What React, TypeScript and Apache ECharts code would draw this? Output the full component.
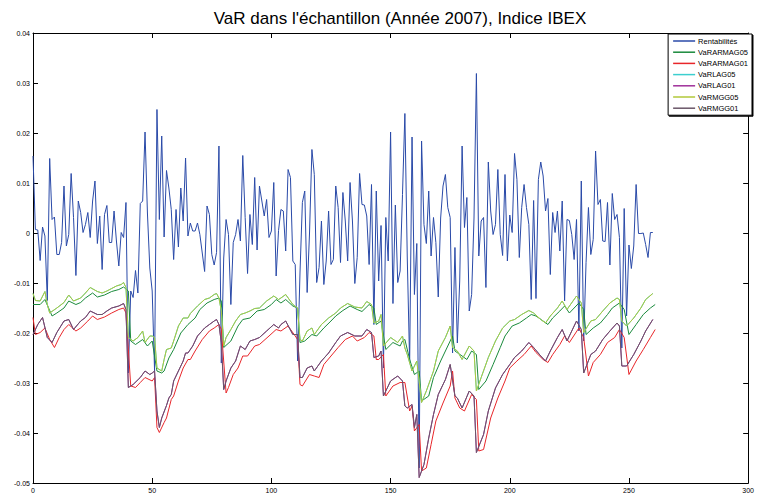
import React, { useEffect, useRef } from "react";
import * as echarts from "echarts";

const titleText = "VaR dans l'échantillon (Année 2007), Indice IBEX";
const seriesNames = ["Rentabilités", "VaRARMAG05", "VaRARMAG01", "VaRLAG05", "VaRLAG01", "VaRMGG05", "VaRMGG01"];
const seriesColors = ["#2a4aa8", "#1a8a3c", "#e8262a", "#3ccfcf", "#a0309a", "#b2c83a", "#6a5668"];

// daily returns, x = 0..260
const rentabilites = [
  0.0154, 0.0007, 0.0006, -0.0055, 0.0012, -0.0006, -0.0135, 0.0149, 0.0027, 0.0032,
  -0.0043, -0.0043, -0.0019, 0.0094, -0.0026, -0.0003, 0.0119, 0.0031, -0.0085, 0.0064,
  0.0041, 0.0001, 0.0017, 0.0041, -0.0009, 0.0064, 0.0104, -0.0021, 0.0034, -0.0073,
  0.0037, 0.0055, -0.0019, -0.0019, 0.0044, -0.0016, -0.0066, 0.0001, -0.0009, 0.0061,
  -0.028, -0.0116, -0.0129, -0.0075, -0.012, 0.0059, 0.0064, 0.0202, 0.004, -0.007,
  -0.0116, -0.0276, 0.0247, 0.0027, 0.0194, -0.0008, 0.0125, 0.009, 0.0047, -0.0053,
  0.0047, -0.0028, 0.009, 0.0024, 0.015, -0.0006, 0.002, 0.0004, 0.0004, 0.002,
  -0.0003, -0.004, -0.0077, 0.0054, 0.0037, -0.0043, -0.0064, -0.0039, 0.0174, -0.026,
  -0.005, 0.0027, -0.0003, -0.0143, -0.0019, -0.0003, 0.0027, -0.0016, 0.0155, 0.0031,
  -0.0081, 0.0037, -0.0023, 0.0111, -0.0034, 0.0094, 0.0064, 0.0034, 0.0067, -0.0009,
  0.0004, 0.0101, -0.0086, 0.0005, 0.0047, 0.0044, -0.0036, 0.0127, 0.0111, -0.0056,
  -0.0063, -0.0256, -0.008, 0.0061, 0.0084, -0.0119, 0.0, 0.0167, 0.0117, -0.0099,
  -0.0069, 0.0024, -0.0103, -0.0056, 0.0044, -0.0063, -0.0053, 0.0094, 0.0051, -0.0059,
  0.0081, 0.0024, -0.0056, 0.0101, 0.0024, -0.0101, -0.0049, 0.0119, 0.0057, 0.0056,
  0.0034, -0.0063, 0.0097, -0.0183, 0.0084, -0.0096, 0.0015, -0.027, 0.0031, -0.0056,
  0.0202, -0.0141, 0.0056, -0.0099, -0.0076, 0.0077, 0.0239, -0.005, -0.026, 0.0192,
  -0.0123, -0.0021, -0.047, 0.0184, 0.0017, -0.0021, 0.0084, -0.0046, 0.0031, -0.0019,
  -0.0128, 0.003, 0.0094, 0.0117, 0.0051, 0.0031, -0.024, -0.0029, -0.022, -0.0096,
  0.0174, 0.0011, 0.0071, -0.0156, -0.0123, 0.003, 0.0319, -0.0046, 0.0024, 0.0031,
  -0.0109, 0.0142, 0.0044, -0.0003, 0.0017, 0.0127, -0.0003, -0.0045, 0.0117, -0.0056,
  0.0036, 0.0001, 0.0159, 0.0107, -0.0049, 0.0051, 0.0097, 0.0051, 0.0017, -0.0133,
  0.0065, -0.0131, 0.0107, 0.0142, 0.0114, 0.0044, 0.0069, -0.0083, 0.0041, 0.0001,
  0.0044, -0.0036, 0.0064, -0.0136, 0.0027, 0.0025, -0.0003, -0.0053, 0.0027, -0.0196,
  0.0104, -0.0216, -0.0059, 0.0051, -0.0043, -0.0013, 0.0164, 0.0057, 0.0067, -0.0016,
  -0.0017, 0.0061, -0.0064, 0.0079, 0.0027, 0.0037, -0.0009, -0.023, 0.0049, -0.0166,
  -0.0024, -0.0071, -0.0026, 0.0097, -0.0001, -0.0001, 0, -0.0023, -0.0049, 0.0001,
  0.0001,
];

// [day, VaR] readings
const varMGG05 = [
  [0, -0.0121], [1, -0.0135], [3, -0.0136], [5, -0.0117], [6, -0.0143], [7, -0.016], [10, -0.015], [13, -0.0139],
  [15, -0.0124], [17, -0.0136], [20, -0.013], [22, -0.012], [24, -0.0109], [27, -0.0117], [29, -0.012], [31, -0.0116],
  [33, -0.0111], [35, -0.0106], [37, -0.0103], [38, -0.0099], [39, -0.0109], [40, -0.0209], [42, -0.0216], [44, -0.0209],
  [46, -0.0196], [47, -0.0219], [49, -0.0206], [50, -0.0206], [51, -0.0209], [52, -0.027], [54, -0.0276], [55, -0.0253],
  [56, -0.0233], [58, -0.023], [59, -0.0216], [61, -0.0186], [63, -0.017], [65, -0.017], [66, -0.0161], [69, -0.0146],
  [72, -0.0133], [74, -0.013], [76, -0.0123], [77, -0.0121], [78, -0.013], [79, -0.0156], [80, -0.0226], [81, -0.0209],
  [83, -0.0193], [85, -0.0176], [87, -0.0163], [89, -0.016], [91, -0.0156], [93, -0.0151], [95, -0.015], [98, -0.0136],
  [101, -0.0126], [103, -0.0133], [104, -0.013], [106, -0.0123], [109, -0.0143], [111, -0.015], [112, -0.0213], [113, -0.0216],
  [115, -0.0196], [117, -0.019], [118, -0.0203], [121, -0.0183], [124, -0.017], [127, -0.016], [129, -0.015], [132, -0.0141],
  [135, -0.0148], [138, -0.015], [140, -0.0137], [142, -0.0143], [143, -0.018], [145, -0.0176], [146, -0.0163], [147, -0.0226],
  [150, -0.0209], [153, -0.0219], [155, -0.0206], [156, -0.023], [157, -0.0243], [159, -0.0276], [161, -0.0256], [163, -0.0339],
  [165, -0.0316], [168, -0.0276], [170, -0.0236], [173, -0.0209], [175, -0.0186], [176, -0.0229], [178, -0.0236], [180, -0.0253],
  [183, -0.0226], [185, -0.0236], [186, -0.0316], [188, -0.0289], [191, -0.0249], [194, -0.0216], [197, -0.019], [200, -0.0176],
  [202, -0.0173], [205, -0.0163], [208, -0.0155], [210, -0.016], [213, -0.0173], [215, -0.018], [217, -0.0166], [220, -0.015],
  [222, -0.0136], [224, -0.0153], [228, -0.0126], [230, -0.014], [231, -0.0199], [234, -0.0176], [236, -0.0173], [239, -0.0156],
  [242, -0.014], [245, -0.013], [246, -0.0133], [247, -0.0176], [249, -0.0186], [252, -0.017], [255, -0.015], [257, -0.0133],
  [260, -0.0121],
];

const varARMAG05 = [
  [0, -0.0143], [3, -0.0143], [5, -0.0133], [8, -0.0166], [10, -0.016], [13, -0.015], [15, -0.0136], [18, -0.0143],
  [20, -0.0139], [22, -0.013], [25, -0.012], [27, -0.0128], [30, -0.0124], [33, -0.0117], [36, -0.0113], [38, -0.0108],
  [40, -0.0116], [41, -0.0216], [43, -0.0223], [46, -0.0213], [48, -0.0226], [50, -0.0216], [52, -0.0276], [54, -0.028],
  [55, -0.0276], [57, -0.025], [59, -0.0233], [62, -0.02], [65, -0.0183], [68, -0.017], [70, -0.0153], [73, -0.014],
  [76, -0.0133], [78, -0.013], [79, -0.0136], [80, -0.0229], [83, -0.0216], [86, -0.0186], [88, -0.0173], [91, -0.017],
  [94, -0.0156], [97, -0.0153], [100, -0.0143], [102, -0.0133], [104, -0.014], [106, -0.0133], [109, -0.0146], [111, -0.015],
  [112, -0.0219], [114, -0.0216], [117, -0.0203], [119, -0.0206], [122, -0.019], [125, -0.0176], [127, -0.0166], [130, -0.0155],
  [133, -0.0146], [136, -0.0153], [138, -0.0157], [141, -0.0143], [143, -0.015], [144, -0.0183], [146, -0.0176], [148, -0.0233],
  [151, -0.0219], [154, -0.0226], [155, -0.0216], [156, -0.0213], [158, -0.0253], [160, -0.0283], [162, -0.0276], [163, -0.0336],
  [166, -0.0326], [168, -0.0289], [171, -0.0256], [174, -0.0226], [176, -0.0206], [177, -0.0236], [180, -0.0246], [182, -0.0253],
  [184, -0.0236], [186, -0.0243], [187, -0.0313], [190, -0.0296], [193, -0.0263], [196, -0.0229], [198, -0.0206], [201, -0.0186],
  [204, -0.018], [207, -0.017], [209, -0.0163], [211, -0.0166], [214, -0.0176], [216, -0.0183], [218, -0.017], [221, -0.0156],
  [223, -0.0146], [225, -0.016], [229, -0.014], [231, -0.0153], [232, -0.0203], [235, -0.019], [238, -0.018], [241, -0.0163],
  [243, -0.015], [246, -0.014], [248, -0.0153], [250, -0.0203], [253, -0.0183], [256, -0.0163], [259, -0.015], [261, -0.0143],
];

const varMGG01 = [
  [0, -0.0203], [2, -0.0183], [4, -0.0169], [6, -0.0209], [8, -0.0219], [10, -0.0199], [13, -0.0176], [15, -0.0173],
  [17, -0.0193], [20, -0.0176], [22, -0.0169], [24, -0.0156], [27, -0.0163], [29, -0.0163], [31, -0.0156], [33, -0.015],
  [36, -0.0146], [38, -0.0141], [39, -0.0153], [40, -0.0309], [42, -0.0303], [45, -0.0289], [47, -0.0276], [49, -0.0283],
  [50, -0.028], [51, -0.0276], [52, -0.0356], [53, -0.0389], [54, -0.037], [56, -0.0345], [57, -0.033], [58, -0.0323],
  [59, -0.0296], [61, -0.0276], [63, -0.0256], [64, -0.024], [65, -0.024], [67, -0.0226], [69, -0.0206], [72, -0.019],
  [74, -0.0183], [76, -0.0176], [77, -0.0173], [78, -0.0183], [79, -0.0219], [80, -0.0313], [81, -0.0296], [83, -0.027],
  [85, -0.0256], [87, -0.0226], [89, -0.0233], [91, -0.0216], [93, -0.0213], [95, -0.0209], [98, -0.0196], [101, -0.0183],
  [103, -0.019], [104, -0.0183], [106, -0.0176], [109, -0.0203], [111, -0.0203], [112, -0.0289], [113, -0.0289], [115, -0.027],
  [117, -0.0266], [118, -0.0276], [121, -0.0256], [124, -0.024], [127, -0.0219], [129, -0.0206], [132, -0.0199], [135, -0.0206],
  [138, -0.0206], [140, -0.0193], [142, -0.0199], [143, -0.0249], [145, -0.0246], [146, -0.0236], [147, -0.0326], [150, -0.0296],
  [153, -0.0286], [155, -0.0296], [156, -0.0346], [157, -0.035], [159, -0.0343], [160, -0.0389], [161, -0.0363], [162, -0.0489],
  [164, -0.0463], [166, -0.041], [168, -0.0363], [170, -0.0323], [173, -0.0293], [175, -0.0263], [177, -0.0326], [178, -0.033],
  [180, -0.035], [183, -0.0316], [185, -0.0326], [186, -0.0439], [189, -0.0403], [191, -0.0356], [194, -0.031], [197, -0.0283],
  [200, -0.0263], [202, -0.0249], [205, -0.0236], [208, -0.0219], [210, -0.0229], [213, -0.0246], [215, -0.0256], [217, -0.0236],
  [220, -0.0209], [222, -0.0193], [224, -0.0216], [228, -0.0176], [230, -0.0193], [231, -0.028], [234, -0.0243], [236, -0.0236],
  [239, -0.0213], [242, -0.0196], [245, -0.018], [246, -0.0186], [247, -0.0266], [249, -0.0266], [252, -0.0243], [255, -0.0216],
  [257, -0.0196], [260, -0.0173],
];

const varARMAG01 = [
  [0, -0.0169], [1, -0.0203], [3, -0.0199], [5, -0.019], [7, -0.0213], [9, -0.0229], [11, -0.0209], [13, -0.0193],
  [15, -0.0183], [18, -0.0196], [20, -0.019], [23, -0.0176], [25, -0.0166], [27, -0.0173], [30, -0.0168], [33, -0.016],
  [36, -0.0153], [38, -0.015], [39, -0.016], [41, -0.0306], [43, -0.0309], [45, -0.0299], [47, -0.0289], [50, -0.0296],
  [51, -0.0289], [52, -0.0389], [53, -0.0399], [55, -0.0379], [56, -0.037], [58, -0.0333], [59, -0.0326], [61, -0.0296],
  [63, -0.027], [65, -0.0253], [66, -0.0253], [68, -0.0236], [71, -0.0213], [74, -0.0196], [76, -0.019], [78, -0.0183],
  [79, -0.0193], [81, -0.032], [82, -0.0309], [84, -0.0283], [86, -0.027], [88, -0.0246], [90, -0.0246], [93, -0.0226],
  [95, -0.0223], [99, -0.0206], [102, -0.0193], [104, -0.0196], [107, -0.0186], [110, -0.0206], [111, -0.0213], [112, -0.0303],
  [113, -0.0306], [116, -0.0283], [118, -0.0286], [120, -0.0289], [122, -0.0263], [125, -0.0246], [128, -0.0229], [131, -0.0213],
  [134, -0.0206], [136, -0.0216], [139, -0.0209], [141, -0.0199], [143, -0.0206], [144, -0.0253], [145, -0.0253], [147, -0.0243],
  [148, -0.0326], [151, -0.0306], [154, -0.0299], [156, -0.0299], [158, -0.0356], [159, -0.0346], [160, -0.0396], [162, -0.0383],
  [163, -0.0476], [165, -0.047], [167, -0.0423], [169, -0.0376], [172, -0.034], [175, -0.0306], [176, -0.0276], [177, -0.033],
  [179, -0.035], [181, -0.0356], [184, -0.0323], [186, -0.0333], [187, -0.0436], [189, -0.0433], [192, -0.037], [195, -0.033],
  [198, -0.0296], [200, -0.027], [203, -0.0256], [206, -0.0243], [209, -0.0226], [211, -0.0239], [214, -0.0253], [216, -0.0259],
  [218, -0.0243], [221, -0.0223], [223, -0.0206], [225, -0.0219], [229, -0.019], [231, -0.0209], [233, -0.0286], [235, -0.0259],
  [238, -0.0243], [241, -0.0219], [244, -0.0209], [246, -0.0193], [248, -0.0209], [250, -0.0283], [253, -0.0256], [256, -0.0233],
  [259, -0.0209], [261, -0.0193],
];

// LAG series are drawn beneath the MGG series and coincide with them in the picture
const varLAG05 = varMGG05;
const varLAG01 = varMGG01;

const xTicks = { min: 0, max: 300, step: 50 };
const yTicks = { min: -0.05, max: 0.04, step: 0.01 };

export default function App() {
  const ref = useRef<HTMLDivElement>(null);
  useEffect(() => {
    if (!ref.current) return;
    const chart = echarts.init(ref.current, undefined, { renderer: "svg" });
    const allData = [
      rentabilites.map((v, i) => [i, v]),
      varARMAG05,
      varARMAG01,
      varLAG05,
      varLAG01,
      varMGG05,
      varMGG01,
    ];
    const font = "Liberation Sans, Arial, sans-serif";
    const fmtY = (v: number) => {
      const r = Math.round(v * 100) / 100;
      return r === 0 ? "0" : String(r);
    };
    const xBase = {
      type: "value",
      min: xTicks.min,
      max: xTicks.max,
      interval: xTicks.step,
      splitLine: { show: false },
      axisLine: { show: true, onZero: false, lineStyle: { color: "#000", width: 1 } },
      axisTick: { show: true, inside: true, length: 5, lineStyle: { color: "#000" } },
    };
    const yBase = {
      type: "value",
      min: yTicks.min,
      max: yTicks.max,
      interval: yTicks.step,
      splitLine: { show: false },
      axisLine: { show: true, onZero: false, lineStyle: { color: "#000", width: 1 } },
      axisTick: { show: true, inside: true, length: 5, lineStyle: { color: "#000" } },
    };
    chart.setOption({
      animation: false,
      backgroundColor: "#fff",
      title: {
        text: titleText,
        left: 395,
        textAlign: "center",
        top: 5,
        textStyle: { fontFamily: font, fontSize: 17, fontWeight: "normal", color: "#000" },
      },
      grid: { left: 33, right: 5, top: 33, bottom: 17, containLabel: false },
      legend: {
        orient: "vertical",
        right: 5,
        top: 34,
        data: seriesNames,
        icon: "rect",
        itemWidth: 22,
        itemHeight: 1.5,
        itemGap: 3.2,
        padding: [3, 4, 3, 5],
        backgroundColor: "#fff",
        borderColor: "#000",
        borderWidth: 1,
        shadowColor: "#000",
        shadowOffsetX: 1,
        shadowOffsetY: 1,
        shadowBlur: 0,
        textStyle: { fontFamily: font, fontSize: 7.5, color: "#000", padding: [0, 0, 0, -2] },
      },
      xAxis: [
        { ...xBase, position: "bottom", axisLabel: { fontFamily: font, fontSize: 7, color: "#000", margin: 4 } },
        { ...xBase, position: "top", axisLabel: { show: false } },
      ],
      yAxis: [
        { ...yBase, position: "left", axisLabel: { fontFamily: font, fontSize: 7, color: "#000", margin: 3, formatter: fmtY } },
        { ...yBase, position: "right", axisLabel: { show: false } },
      ],
      series: seriesNames.map((name, i) => ({
        name,
        type: "line",
        data: allData[i],
        xAxisIndex: 0,
        yAxisIndex: 0,
        showSymbol: false,
        symbol: "none",
        lineStyle: { width: 1, color: seriesColors[i] },
        itemStyle: { color: seriesColors[i] },
        z: 2 + i,
      })),
    });
    return () => chart.dispose();
  }, []);
  return (
    <div
      ref={ref}
      style={{ position: "absolute", left: 0, top: 0, width: 757, height: 500, background: "#fff" }}
    />
  );
}
